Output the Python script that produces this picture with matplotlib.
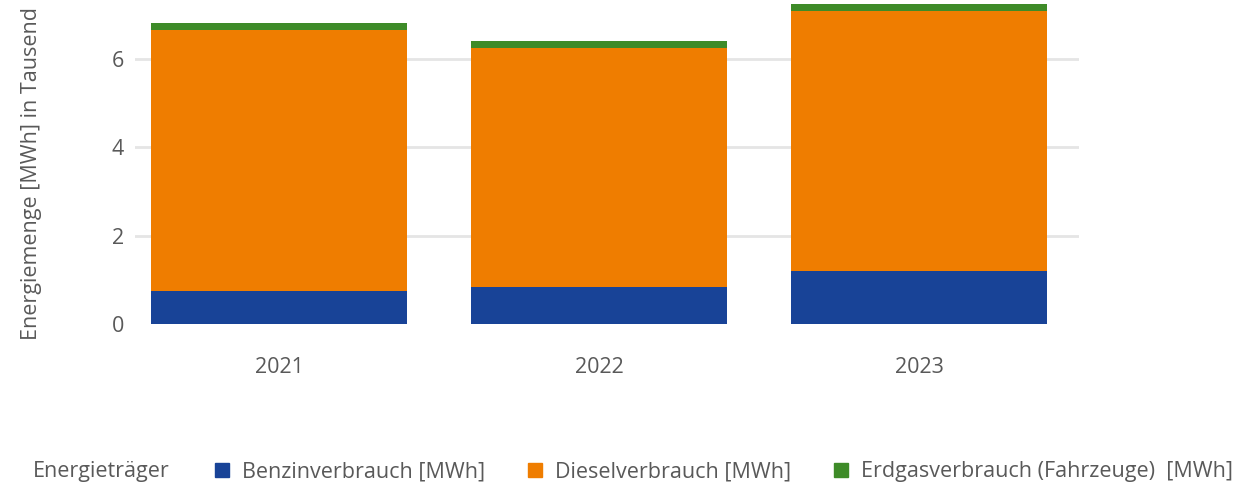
import matplotlib.pyplot as plt
from matplotlib.patches import Patch

years = ["2021", "2022", "2023"]
benzin = [0.75, 0.84, 1.20]
diesel = [5.91, 5.41, 5.89]
erdgas = [0.16, 0.16, 0.16]

series_names = ["Benzinverbrauch [MWh]", "Dieselverbrauch [MWh]",
                "Erdgasverbrauch (Fahrzeuge)  [MWh]"]
colors = ["#184397", "#ef7d00", "#3e8b28"]
text_color = "#595959"
fs = 15.5

plt.rcParams['font.family'] = ['Open Sans', 'DejaVu Sans']

fig = plt.figure(figsize=(12.36, 4.93), dpi=100)
ax = fig.add_axes([135 / 1236, 1 - 324 / 493, (1079 - 135) / 1236, 324 / 493])

x = range(len(years))
bottom2 = [b + d for b, d in zip(benzin, diesel)]
ax.bar(x, benzin, width=0.8, color=colors[0], zorder=3)
ax.bar(x, diesel, width=0.8, bottom=benzin, color=colors[1], zorder=3)
ax.bar(x, erdgas, width=0.8, bottom=bottom2, color=colors[2], zorder=3)

ax.set_xlim(-0.45, 2.5)
ax.set_ylim(0, 7.33)
ax.set_yticks([0, 2, 4, 6])
ax.set_xticks(list(x))
ax.set_xticklabels(years)
ax.yaxis.grid(True, color="#e5e5e5", linewidth=2, zorder=0)
ax.yaxis.get_gridlines()[0].set_visible(False)
ax.tick_params(axis='both', length=0, labelsize=fs, colors=text_color)
ax.tick_params(axis='x', pad=24)
ax.tick_params(axis='y', pad=8)
for s in ax.spines.values():
    s.set_visible(False)

fig.text(32 / 1236, 1 - 173 / 493, "Energiemenge [MWh] in Tausend", rotation=90,
         ha='center', va='center', fontsize=fs, color=text_color)

fig.text(33 / 1236, 1 - 472 / 493, "Energieträger", ha='left', va='center',
         fontsize=fs, color=text_color)
handles = [Patch(color=c) for c in colors]
fig.legend(handles, series_names, ncol=3, loc='center left',
           bbox_to_anchor=(215 / 1236, 1 - 472 / 493), frameon=False,
           fontsize=fs, labelcolor=text_color, handlelength=0.65,
           handleheight=0.65, handletextpad=0.6, columnspacing=2.0,
           borderpad=0, borderaxespad=0)

fig.savefig("out.png", dpi=100)
